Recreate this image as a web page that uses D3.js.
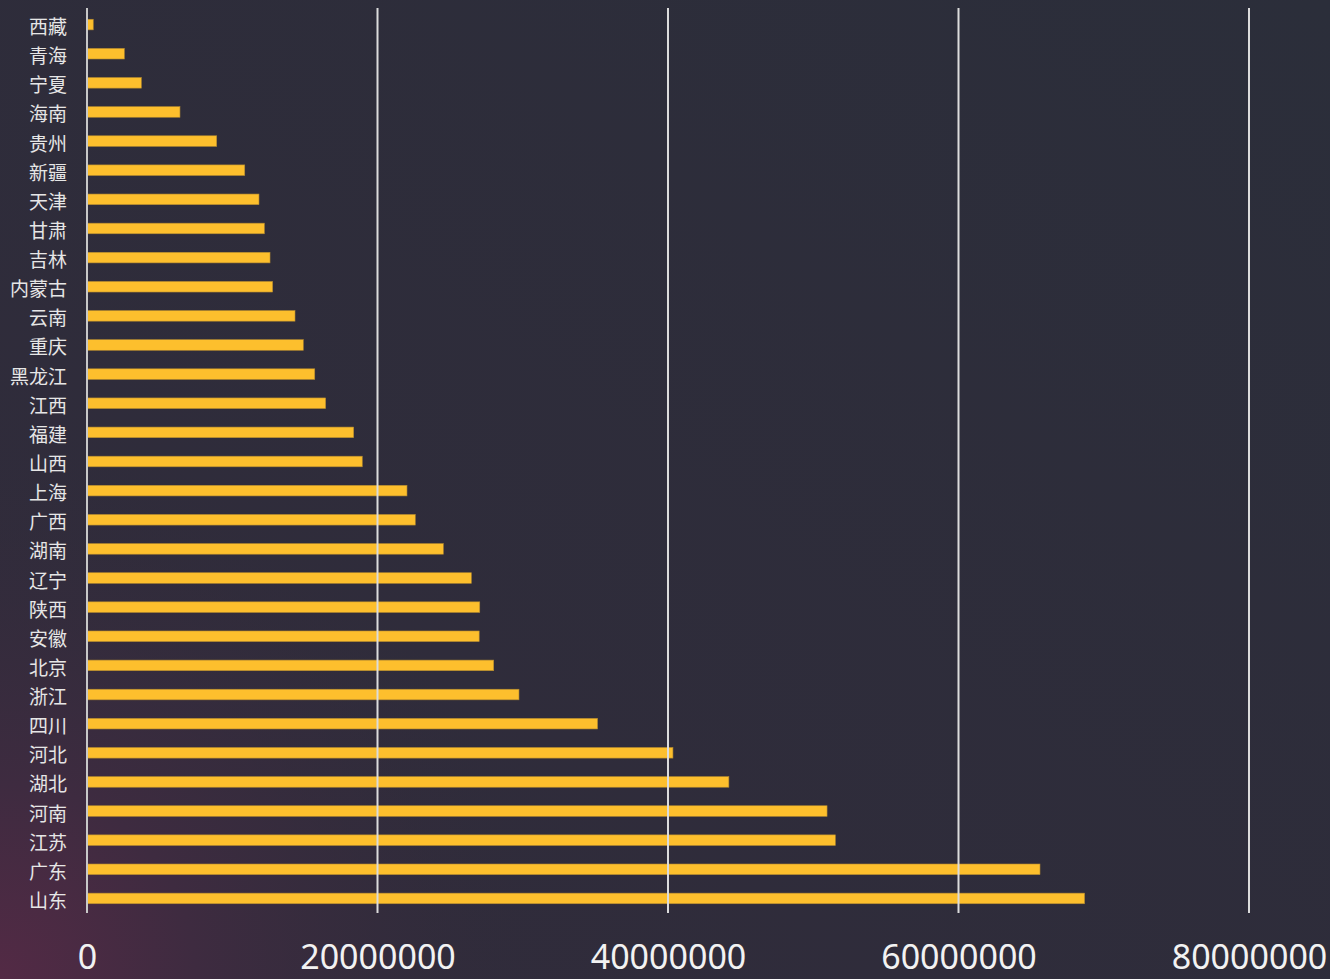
<!DOCTYPE html>
<html>
<head>
<meta charset="utf-8">
<script src="https://cdn.jsdelivr.net/npm/d3@7"></script>
<style>
  html, body { margin: 0; padding: 0; background: #2f2c3a; }
  svg { display: block; }
</style>
</head>
<body>
<svg id="canvas"></svg>
<script>
let provinces = ["西藏", "青海", "宁夏", "海南", "贵州", "新疆", "天津", "甘肃", "吉林", "内蒙古",
                 "云南", "重庆", "黑龙江", "江西", "福建", "山西", "上海", "广西", "湖南", "辽宁",
                 "陕西", "安徽", "北京", "浙江", "四川", "河北", "湖北", "河南", "江苏", "广东", "山东"]

let values = [430000, 2570000, 3740000, 6400000, 8930000, 10860000, 11840000, 12210000, 12600000, 12780000,
              14320000, 14890000, 15680000, 16430000, 18360000, 18950000, 22030000, 22600000, 24530000, 26460000,
              27040000, 27000000, 28000000, 29740000, 35150000, 40340000, 44190000, 50950000, 51520000, 65610000, 68680000]

let xTicks = [0, 20000000, 40000000, 60000000, 80000000]

let width = 1330
let height = 979
let padLeft = 87
let padRight = 1249
let padTop = 8
let padBottom = 913

let data = provinces.map((p, i) => ({ name: p, value: values[i] }))

let canvas = d3.select("#canvas")
    .attr("width", width)
    .attr("height", height)

// background: flat dark with a faint warm glow bottom-left
let defs = canvas.append("defs")
let glow = defs.append("radialGradient")
    .attr("id", "glow")
    .attr("gradientUnits", "userSpaceOnUse")
    .attr("cx", 0).attr("cy", height).attr("r", 560)
glow.append("stop").attr("offset", "0%").attr("stop-color", "#532a45").attr("stop-opacity", 1)
glow.append("stop").attr("offset", "35%").attr("stop-color", "#3e2b40").attr("stop-opacity", 1)
glow.append("stop").attr("offset", "100%").attr("stop-color", "#2f2c3a").attr("stop-opacity", 0)

let cool = defs.append("linearGradient")
    .attr("id", "cool")
    .attr("x1", 0).attr("y1", 1).attr("x2", 1).attr("y2", 0)
cool.append("stop").attr("offset", "0%").attr("stop-color", "#312b3b")
cool.append("stop").attr("offset", "100%").attr("stop-color", "#2b2e3a")

canvas.append("rect")
    .attr("width", width)
    .attr("height", height)
    .attr("fill", "url(#cool)")
canvas.append("rect")
    .attr("width", width)
    .attr("height", height)
    .attr("fill", "url(#glow)")

let xScale = d3.scaleLinear()
    .domain([0, 80000000])
    .range([padLeft, padRight])

let yScale = d3.scaleBand()
    .domain(provinces)
    .range([padTop + 2, padBottom])
    .paddingInner(0.636)
    .paddingOuter(0.318)

// bars
canvas.append("g")
    .selectAll("rect")
    .data(data)
    .enter()
    .append("rect")
    .attr("x", xScale(0))
    .attr("y", (d) => yScale(d.name))
    .attr("width", (d) => xScale(d.value) - xScale(0))
    .attr("height", yScale.bandwidth())
    .attr("fill", "#fdbf2d")
    .attr("stroke", "#b48a30")
    .attr("stroke-width", 0.6)

// gridlines
canvas.append("g")
    .selectAll("line")
    .data(xTicks.slice(1))
    .enter()
    .append("line")
    .attr("x1", (d) => xScale(d))
    .attr("x2", (d) => xScale(d))
    .attr("y1", padTop)
    .attr("y2", padBottom)
    .attr("stroke", "#dcdcdc")
    .attr("stroke-width", 2)

// y axis
let yAxis = d3.axisLeft(yScale).tickSize(0).tickPadding(20)
let yg = canvas.append("g")
    .attr("transform", "translate(" + padLeft + ",0)")
    .call(yAxis)
yg.select(".domain")
    .attr("stroke", "#c8c8c8")
    .attr("stroke-width", 2)
    .attr("d", "M0," + padTop + "V" + padBottom)
yg.selectAll(".tick text")
    .attr("fill", "#e6e6e6")
    .attr("dy", "0.5em")
    .style("font-size", "19px")
    .style("font-family", "'Noto Sans CJK SC', 'Noto Sans', sans-serif")

// x axis
let xAxis = d3.axisBottom(xScale)
    .tickValues(xTicks)
    .tickFormat(d3.format("d"))
    .tickSize(0)
    .tickPadding(0)
let xg = canvas.append("g")
    .attr("transform", "translate(0," + padBottom + ")")
    .call(xAxis)
xg.select(".domain").remove()
xg.selectAll(".tick text")
    .attr("fill", "#f2f2f2")
    .attr("y", 56)
    .attr("dy", 0)
    .style("font-size", "34px")
    .style("font-family", "'Noto Sans', 'Open Sans', sans-serif")
</script>
</body>
</html>
